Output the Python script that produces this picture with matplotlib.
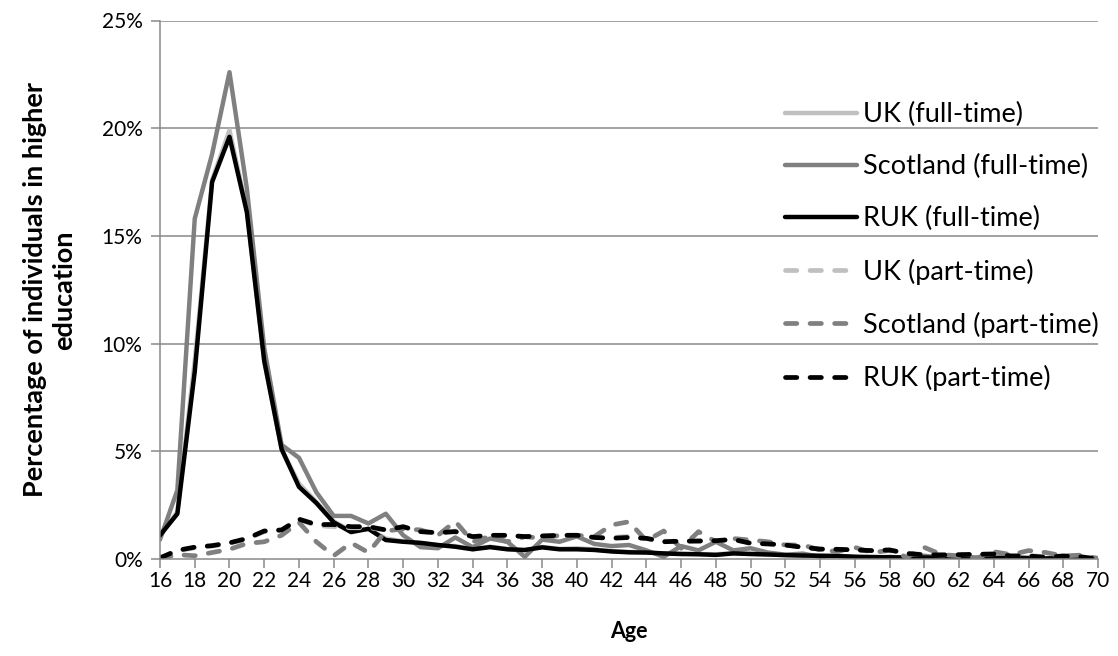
import numpy as np
import matplotlib
matplotlib.use("Agg")
import matplotlib.pyplot as plt
from matplotlib.ticker import FuncFormatter

plt.rcParams["font.family"] = ["Lato", "DejaVu Sans"]

ages = list(range(16, 71))

# percentages (%), one value per age 16..70
uk_ft = [1.05, 2.2, 9.2, 17.6, 19.9, 16.2, 9.2, 5.1, 3.5, 2.65,
         1.75, 1.3, 1.4, 0.95, 0.82, 0.73, 0.64, 0.6, 0.46, 0.57,
         0.47, 0.4, 0.56, 0.47, 0.5, 0.44, 0.37, 0.33, 0.31, 0.25,
         0.25, 0.23, 0.22, 0.26, 0.25, 0.21, 0.18, 0.17, 0.15, 0.14,
         0.1, 0.09, 0.08, 0.07, 0.08, 0.06, 0.06, 0.05, 0.05, 0.05,
         0.04, 0.03, 0.03, 0.02, 0.02]
sco_ft = [0.9, 3.2, 15.8, 18.8, 22.6, 17.2, 9.8, 5.3, 4.7, 3.1,
          2.0, 2.0, 1.65, 2.1, 1.1, 0.55, 0.5, 1.0, 0.55, 0.95,
          0.8, 0.1, 0.9, 0.8, 1.05, 0.7, 0.6, 0.65, 0.4, 0.1,
          0.6, 0.4, 0.8, 0.4, 0.5, 0.3, 0.2, 0.25, 0.1, 0.15,
          0.1, 0.05, 0.1, 0.05, 0.15, 0.05, 0.1, 0.0, 0.05, 0.1,
          0.05, 0.0, 0.05, 0.05, 0.0]
ruk_ft = [1.1, 2.1, 8.7, 17.5, 19.6, 16.1, 9.2, 5.1, 3.35, 2.6,
          1.7, 1.25, 1.4, 0.88, 0.8, 0.75, 0.65, 0.57, 0.45, 0.55,
          0.45, 0.42, 0.54, 0.45, 0.45, 0.42, 0.35, 0.31, 0.3, 0.26,
          0.23, 0.22, 0.19, 0.26, 0.23, 0.21, 0.18, 0.16, 0.15, 0.14,
          0.1, 0.09, 0.08, 0.07, 0.07, 0.06, 0.06, 0.05, 0.05, 0.04,
          0.04, 0.03, 0.03, 0.02, 0.02]
uk_pt = [0.05, 0.38, 0.52, 0.6, 0.73, 0.93, 1.27, 1.33, 1.83, 1.55,
         1.5, 1.45, 1.45, 1.35, 1.48, 1.28, 1.2, 1.3, 1.02, 1.1,
         1.08, 1.04, 1.06, 1.1, 1.1, 1.01, 1.0, 1.05, 0.95, 0.83,
         0.8, 0.86, 0.85, 0.91, 0.74, 0.71, 0.65, 0.56, 0.46, 0.44,
         0.43, 0.38, 0.42, 0.24, 0.22, 0.19, 0.2, 0.2, 0.24, 0.15,
         0.16, 0.1, 0.14, 0.11, 0.01]
sco_pt = [0.0, 0.2, 0.15, 0.3, 0.45, 0.72, 0.8, 1.1, 1.7, 0.8,
          0.15, 0.75, 0.3, 1.3, 1.4, 1.35, 1.1, 1.75, 0.8, 1.05,
          0.8, 1.04, 0.96, 1.1, 1.1, 1.04, 1.58, 1.73, 0.85, 1.3,
          0.5, 1.27, 0.8, 0.95, 0.88, 0.8, 0.65, 0.65, 0.42, 0.35,
          0.54, 0.3, 0.4, 0.08, 0.54, 0.2, 0.15, 0.03, 0.34, 0.2,
          0.39, 0.3, 0.14, 0.18, 0.03]
ruk_pt = [0.05, 0.4, 0.55, 0.62, 0.75, 0.95, 1.3, 1.35, 1.85, 1.6,
          1.6, 1.5, 1.5, 1.35, 1.5, 1.27, 1.22, 1.27, 1.04, 1.1,
          1.1, 1.04, 1.07, 1.1, 1.1, 1.0, 0.96, 1.0, 0.96, 0.8,
          0.83, 0.83, 0.85, 0.91, 0.73, 0.7, 0.65, 0.54, 0.46, 0.45,
          0.42, 0.39, 0.42, 0.26, 0.19, 0.19, 0.2, 0.22, 0.23, 0.14,
          0.14, 0.08, 0.14, 0.1, 0.0]

labels = ["UK (full-time)", "Scotland (full-time)", "RUK (full-time)",
          "UK (part-time)", "Scotland (part-time)", "RUK (part-time)"]
series = [uk_ft, sco_ft, ruk_ft, uk_pt, sco_pt, ruk_pt]
colors = ["#c0c0c0", "#808080", "#000000", "#c0c0c0", "#808080", "#000000"]
dashed = [False, False, False, True, True, True]

fig = plt.figure(figsize=(11.18, 6.56), dpi=100)
ax = fig.add_axes([160 / 1118, 1 - 559 / 656, 938 / 1118, 538.5 / 656])

grid_c = "#898989"
for y in [5, 10, 15, 20, 25]:
    ax.axhline(y, color=grid_c, lw=1.1, zorder=0)

for vals, lab, c, d in zip(series, labels, colors, dashed):
    if d:
        ax.plot(ages, vals, color=c, lw=3.4, label=lab,
                dashes=(2.4, 2.8), dash_capstyle="round",
                solid_joinstyle="round")
    else:
        ax.plot(ages, vals, color=c, lw=3.2, label=lab,
                solid_joinstyle="round", solid_capstyle="round")

ax.set_xlim(16, 70)
ax.set_ylim(0, 25)
ax.set_xticks(range(16, 71, 2))
ax.set_yticks(range(0, 26, 5))
ax.yaxis.set_major_formatter(FuncFormatter(lambda v, p: f"{v:.0f}%"))

for s in ["top", "right"]:
    ax.spines[s].set_visible(False)
for s in ["left", "bottom"]:
    ax.spines[s].set_color(grid_c)
    ax.spines[s].set_linewidth(1.1)
ax.tick_params(axis="x", length=6.5, width=1.1, color=grid_c, pad=2,
               labelsize=15)
ax.tick_params(axis="y", length=6.5, width=1.1, color=grid_c, pad=6,
               labelsize=15)

ax.set_xlabel("Age", fontsize=15.5, fontweight="bold", labelpad=22)
ax.set_ylabel("Percentage of individuals in higher\neducation",
              fontsize=19.5, fontweight="bold", linespacing=1.25)
ax.yaxis.set_label_coords((76 - 160) / 938, 0.5)

leg = ax.legend(loc="upper left", bbox_to_anchor=(785 / 1118, 1 - 102 / 656),
                bbox_transform=fig.transFigure, frameon=False,
                fontsize=19.5, handlelength=2.65, handletextpad=0.22,
                labelspacing=1.0, borderpad=0, borderaxespad=0)

fig.savefig("out.png", dpi=100)
